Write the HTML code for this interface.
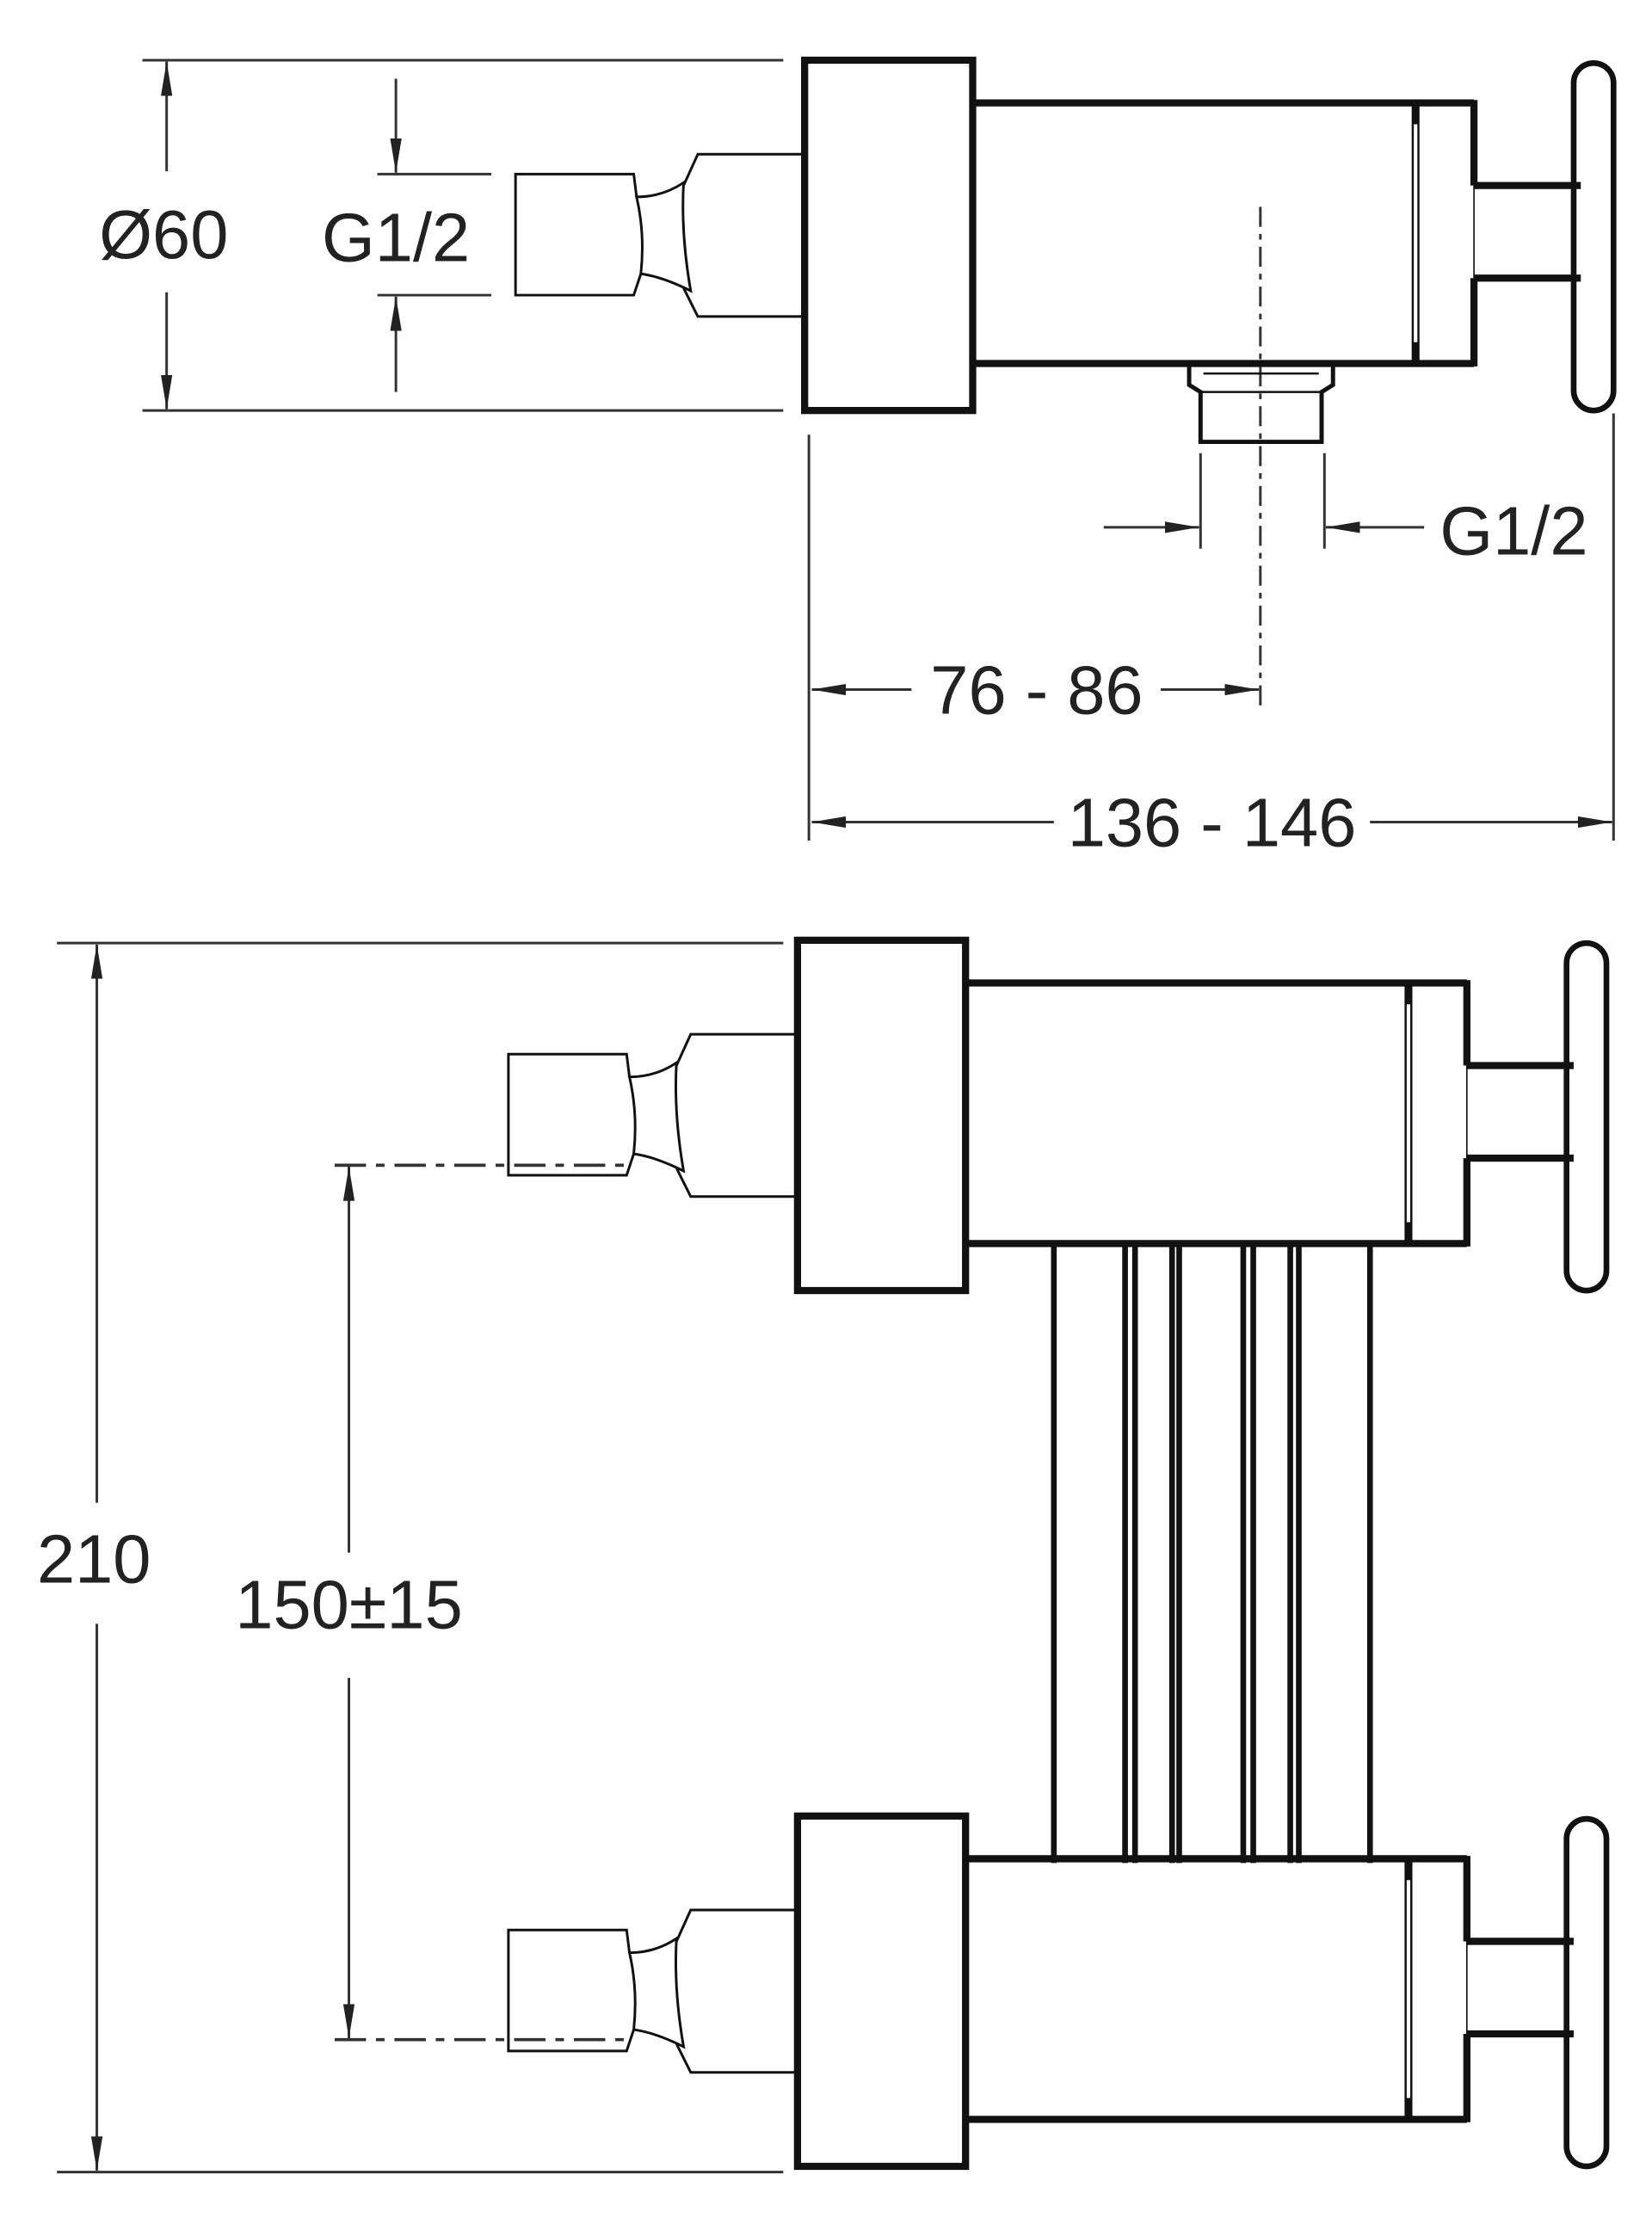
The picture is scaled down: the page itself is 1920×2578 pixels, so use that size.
<!DOCTYPE html>
<html><head><meta charset="utf-8"><style>html,body{margin:0;padding:0;background:#fff}svg{display:block}</style></head>
<body>
<svg width="1920" height="2578" viewBox="0 0 1160 1557" xmlns="http://www.w3.org/2000/svg">
<defs>
<marker id="a" viewBox="0 0 24 10" refX="24" refY="5" markerWidth="24" markerHeight="10" orient="auto-start-reverse" markerUnits="userSpaceOnUse">
<path d="M0,1 L24,5 L0,9 Z" fill="#222"/></marker>
<g id="u" fill="none" stroke="#111">
<rect x="0" y="0" width="118" height="246" stroke-width="5"/>
<line x1="118" y1="30" x2="470" y2="30" stroke-width="5"/>
<line x1="118" y1="213" x2="470" y2="213" stroke-width="5"/>
<line x1="470" y1="28" x2="470" y2="88" stroke-width="5"/>
<line x1="470" y1="153" x2="470" y2="215" stroke-width="5"/>
<line x1="431" y1="30" x2="431" y2="213" stroke-width="1.5"/>
<line x1="427" y1="30" x2="427" y2="213" stroke-width="1.5"/>
<line x1="429" y1="32" x2="429" y2="45" stroke-width="4"/>
<line x1="429" y1="198" x2="429" y2="211" stroke-width="4"/>
<line x1="470" y1="88" x2="545" y2="88" stroke-width="5"/>
<line x1="470" y1="153" x2="545" y2="153" stroke-width="5"/>
<line x1="470" y1="88" x2="470" y2="153" stroke-width="1"/>
<rect x="540" y="2" width="28" height="244" rx="14" stroke-width="4"/>
<path d="M0,66 L-75,66 L-85,88 M0,180 L-75,180 L-85,160" stroke-width="1.8"/>
<path d="M-85,86 Q-100,96 -118,96 Q-112,122 -115,150 Q-100,152 -80,162 Q-87,122 -85,86 Z" stroke-width="1.8"/>
<path d="M-118,96 L-120,80 L-203,80 L-203,165 L-120,165 L-115,150" stroke-width="1.8"/>
</g>
</defs>
<g fill="none" stroke="#333" stroke-width="1.8">
<line x1="100" y1="42" x2="550" y2="42"/>
<line x1="100" y1="288" x2="550" y2="288"/>
<line x1="117" y1="120" x2="117" y2="43" marker-end="url(#a)"/>
<line x1="117" y1="205" x2="117" y2="287" marker-end="url(#a)"/>
<line x1="265" y1="122" x2="345" y2="122"/>
<line x1="265" y1="207" x2="345" y2="207"/>
<line x1="278" y1="55" x2="278" y2="121" marker-end="url(#a)"/>
<line x1="278" y1="275" x2="278" y2="208" marker-end="url(#a)"/>
<line x1="568" y1="305" x2="568" y2="590"/>
<line x1="1133" y1="290" x2="1133" y2="590"/>
<line x1="843" y1="318" x2="843" y2="385"/>
<line x1="930" y1="318" x2="930" y2="385"/>
<line x1="775" y1="370" x2="842" y2="370" marker-end="url(#a)"/>
<line x1="1000" y1="370" x2="931" y2="370" marker-end="url(#a)"/>
<line x1="640" y1="484" x2="570" y2="484" marker-end="url(#a)"/>
<line x1="815" y1="484" x2="884" y2="484" marker-end="url(#a)"/>
<line x1="740" y1="577" x2="570" y2="577" marker-end="url(#a)"/>
<line x1="962" y1="577" x2="1132" y2="577" marker-end="url(#a)"/>
<line x1="885" y1="145" x2="885" y2="498" stroke-dasharray="14,5,4,5"/>
<line x1="40" y1="662" x2="550" y2="662"/>
<line x1="40" y1="1525" x2="550" y2="1525"/>
<line x1="68" y1="1055" x2="68" y2="663" marker-end="url(#a)"/>
<line x1="68" y1="1140" x2="68" y2="1524" marker-end="url(#a)"/>
<line x1="245" y1="1090" x2="245" y2="819" marker-end="url(#a)"/>
<line x1="245" y1="1178" x2="245" y2="1431" marker-end="url(#a)"/>
<line x1="235" y1="818" x2="445" y2="818" stroke-dasharray="22,7,6,7" stroke-width="2.2"/>
<line x1="235" y1="1432" x2="445" y2="1432" stroke-dasharray="22,7,6,7" stroke-width="2.2"/>
</g>
<use href="#u" x="565" y="42"/>
<use href="#u" x="560" y="660"/>
<use href="#u" x="560" y="1275"/>
<g fill="none" stroke="#111">
<path d="M835,256 L835,270 L843,275 L843,310 L928,310 L928,275 L936,270 L936,256" stroke-width="3"/>
<line x1="843" y1="275" x2="928" y2="275" stroke-width="1.5"/>
<line x1="845" y1="262" x2="926" y2="262" stroke-width="1.5"/>
<g stroke-width="4">
<line x1="740" y1="875" x2="740" y2="1308"/><line x1="790" y1="875" x2="790" y2="1308"/>
<line x1="797" y1="875" x2="797" y2="1308"/><line x1="823" y1="875" x2="823" y2="1308"/>
<line x1="828" y1="875" x2="828" y2="1308"/><line x1="873" y1="875" x2="873" y2="1308"/>
<line x1="880" y1="875" x2="880" y2="1308"/><line x1="906" y1="875" x2="906" y2="1308"/>
<line x1="912" y1="875" x2="912" y2="1308"/><line x1="962" y1="875" x2="962" y2="1308"/>
</g>
</g>
<g font-family="Liberation Sans, sans-serif" font-size="48" fill="#222" text-anchor="middle">
<text x="115" y="181">Ø60</text>
<text x="278" y="183">G1/2</text>
<text x="1063" y="389">G1/2</text>
<text x="728" y="501">76 - 86</text>
<text x="851" y="594">136 - 146</text>
<text x="66" y="1111">210</text>
<text x="245" y="1143">150±15</text>
</g>
</svg>
</body></html>
